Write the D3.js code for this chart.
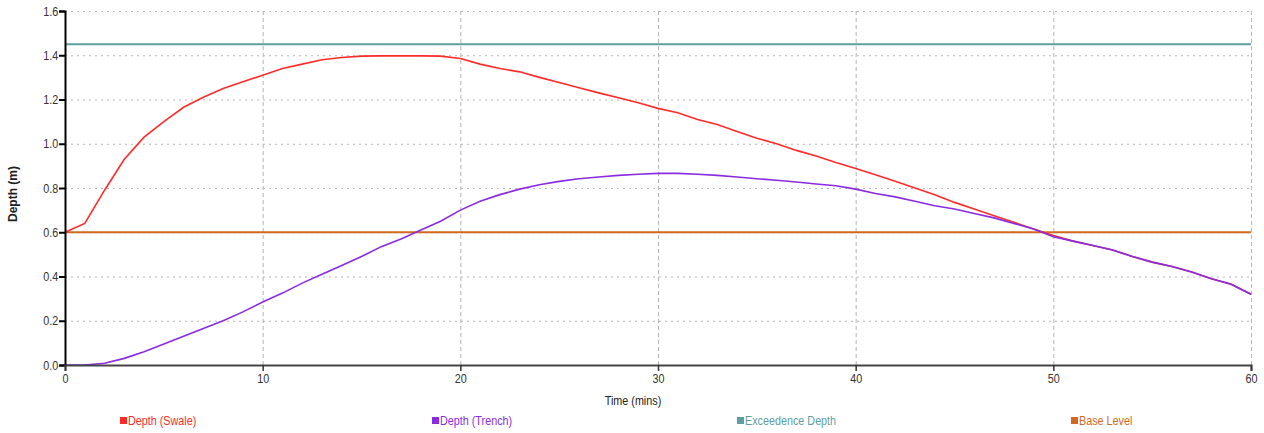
<!DOCTYPE html>
<html>
<head>
<meta charset="utf-8">
<script src="https://cdn.jsdelivr.net/npm/d3@7"></script>
<style>
  body { margin: 0; background: #fff; }
  svg { display: block; }
  .tick text { font-family: "Liberation Sans", Arial, sans-serif; font-size: 13px; fill: #333; }
  .gridlines .domain { display: none; }
  .gridlines line { stroke: #b4b4b4; stroke-width: 1; }
  .y.gridlines line { stroke-dasharray: 2,4; }
  .x.gridlines line { stroke-dasharray: 4,3; }
</style>
</head>
<body>
<svg id="chart" width="1264" height="433"></svg>
<script>
    // values, one per minute
    const minutes = d3.range(0, 61);
    const swale = [0.60, 0.64, 0.79, 0.93, 1.03, 1.10, 1.165, 1.21, 1.25, 1.28,
                   1.31, 1.34, 1.36, 1.38, 1.39, 1.396, 1.397, 1.397, 1.397, 1.396,
                   1.385, 1.36, 1.34, 1.325, 1.30, 1.277, 1.253, 1.23, 1.208, 1.185,
                   1.16, 1.14, 1.11, 1.087, 1.055, 1.025, 1.0, 0.97, 0.945, 0.915,
                   0.888, 0.86, 0.83, 0.80, 0.77, 0.735, 0.705, 0.675, 0.645, 0.615,
                   0.585, 0.56, 0.54, 0.52, 0.49, 0.465, 0.445, 0.42, 0.39, 0.365, 0.32];
    const trench = [0.0, 0.0, 0.008, 0.03, 0.06, 0.095, 0.13, 0.165, 0.20, 0.24,
                    0.285, 0.325, 0.37, 0.41, 0.45, 0.49, 0.535, 0.57, 0.61, 0.65,
                    0.70, 0.74, 0.77, 0.795, 0.815, 0.83, 0.842, 0.85, 0.857, 0.862,
                    0.866, 0.866, 0.862, 0.857, 0.85, 0.842, 0.835, 0.827, 0.818, 0.81,
                    0.795, 0.775, 0.76, 0.74, 0.72, 0.705, 0.685, 0.665, 0.64, 0.615,
                    0.58, 0.56, 0.54, 0.52, 0.49, 0.465, 0.445, 0.42, 0.39, 0.365, 0.32];
    const exceedenceDepth = 1.45;
    const baseLevel = 0.6;

    const xTicks = [0, 10, 20, 30, 40, 50, 60];
    const yTicks = [0, 0.2, 0.4, 0.6, 0.8, 1.0, 1.2, 1.4, 1.6];
    const seriesNames = ["Depth (Swale)", "Depth (Trench)", "Exceedence Depth", "Base Level"];
    const seriesColors = ["#ff2a2a", "#8a2be2", "#5f9ea0", "#d2691e"];

    // the original uses a narrow font; squeeze Liberation Sans horizontally instead
    const squeeze = 0.83;

    let svg = d3.select("svg#chart");
    let width = +svg.attr("width");
    let height = +svg.attr("height");
    let margin = { top: 11, right: 13, bottom: 68, left: 65 };
    let chartWidth = width - margin.left - margin.right;
    let chartHeight = height - margin.top - margin.bottom;

    const xScale = d3.scaleLinear().domain([0, 60]).range([0, chartWidth]);
    const yScale = d3.scaleLinear().domain([0, 1.6]).range([chartHeight, 0]);
    const colorScale = d3.scaleOrdinal().domain(seriesNames).range(seriesColors);

    let chart = svg.append("g")
        .attr("transform", "translate(" + margin.left + "," + margin.top + ")");

    // gridlines first so everything sits on top
    chart.append("g").attr("class", "y gridlines")
        .call(d3.axisLeft(yScale).tickValues(yTicks.slice(1)).tickSize(-chartWidth).tickFormat(""));
    chart.append("g").attr("class", "x gridlines")
        .attr("transform", "translate(0," + chartHeight + ")")
        .call(d3.axisBottom(xScale).tickValues(xTicks.slice(1)).tickSize(-chartHeight).tickFormat(""));

    // horizontal reference lines
    chart.append("line")
        .attr("x1", 0).attr("x2", chartWidth)
        .attr("y1", yScale(exceedenceDepth)).attr("y2", yScale(exceedenceDepth))
        .attr("stroke", colorScale("Exceedence Depth")).attr("stroke-width", 2);
    chart.append("line")
        .attr("x1", 0).attr("x2", chartWidth)
        .attr("y1", yScale(baseLevel)).attr("y2", yScale(baseLevel))
        .attr("stroke", colorScale("Base Level")).attr("stroke-width", 2);

    let line = d3.line()
        .x(d => xScale(d[0]))
        .y(d => yScale(d[1]));

    chart.append("path")
        .datum(minutes.map((m, i) => [m, swale[i]]))
        .attr("d", line)
        .attr("fill", "none")
        .attr("stroke", colorScale("Depth (Swale)"))
        .attr("stroke-width", 1.6);

    chart.append("path")
        .datum(minutes.map((m, i) => [m, trench[i]]))
        .attr("d", line)
        .attr("fill", "none")
        .attr("stroke", colorScale("Depth (Trench)"))
        .attr("stroke-width", 1.6);

    // axes
    let leftAxis = chart.append("g").attr("class", "y axis")
        .call(d3.axisLeft(yScale).tickValues(yTicks).tickFormat(d3.format(".1f")).tickSize(6).tickPadding(2));
    leftAxis.select(".domain").attr("stroke", "#000").attr("stroke-width", 2);
    leftAxis.selectAll(".tick line").attr("stroke", "#000").attr("stroke-width", 2);
    leftAxis.selectAll(".tick text").attr("transform", "scale(" + squeeze + ",1)");

    let bottomAxis = chart.append("g").attr("class", "x axis")
        .attr("transform", "translate(0," + chartHeight + ")")
        .call(d3.axisBottom(xScale).tickValues(xTicks).tickSize(6).tickPadding(3));
    bottomAxis.select(".domain").attr("stroke", "#444").attr("stroke-width", 2);
    bottomAxis.selectAll(".tick line").attr("stroke", "#333").attr("stroke-width", 1.5);
    bottomAxis.selectAll(".tick text").attr("transform", "scale(" + squeeze + ",1)");

    // axis titles
    svg.append("text")
        .attr("transform", "translate(17,194) rotate(-90)")
        .attr("text-anchor", "middle")
        .style("font-family", "Liberation Sans, Arial, sans-serif")
        .style("font-size", "12px")
        .style("font-weight", "bold")
        .style("fill", "#222")
        .text("Depth (m)");

    svg.append("text")
        .attr("transform", "translate(633,405) scale(" + squeeze + ",1)")
        .attr("text-anchor", "middle")
        .style("font-family", "Liberation Sans, Arial, sans-serif")
        .style("font-size", "13px")
        .style("fill", "#222")
        .text("Time (mins)");

    // legend
    const legendX = [120, 432, 737, 1071];
    let legend = svg.append("g");
    seriesNames.forEach((name, i) => {
        legend.append("rect")
            .attr("x", legendX[i]).attr("y", 417)
            .attr("width", 7).attr("height", 7)
            .attr("fill", colorScale(name));
        legend.append("text")
            .attr("transform", "translate(" + (legendX[i] + 8) + ",425) scale(" + squeeze + ",1)")
            .style("font-family", "Liberation Sans, Arial, sans-serif")
            .style("font-size", "13px")
            .style("fill", colorScale(name))
            .text(name);
    });
</script>
</body>
</html>
